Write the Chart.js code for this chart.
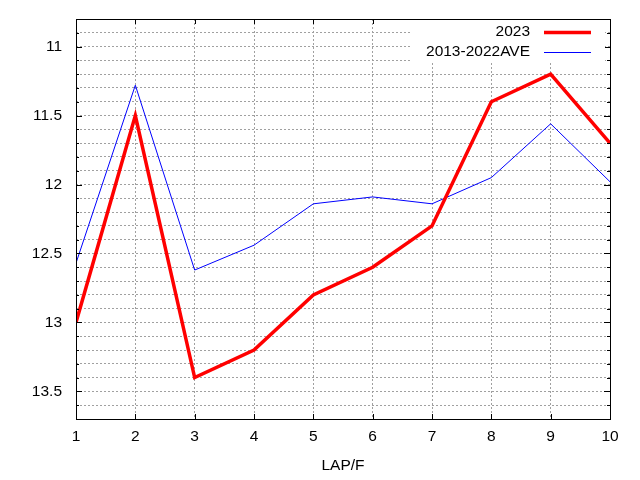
<!DOCTYPE html>
<html>
<head>
<meta charset="utf-8">
<script src="https://cdn.jsdelivr.net/npm/chart.js@4"></script>
<style>
html,body{margin:0;padding:0;background:#fff;}
#wrap{width:640px;height:480px;}
</style>
</head>
<body>
<div id="wrap"><canvas id="c" width="640" height="480"></canvas></div>
<script>
const laps = [1, 2, 3, 4, 5, 6, 7, 8, 9, 10];
const series2023 = [13.0, 11.5, 13.4, 13.2, 12.8, 12.6, 12.3, 11.4, 11.2, 11.7];
const seriesAve = [12.57, 11.28, 12.62, 12.44, 12.14, 12.09, 12.14, 11.95, 11.56, 11.98];
const seriesLabels = ['2023', '2013-2022AVE'];
const xTitle = 'LAP/F';

const FONT = 'Liberation Sans, Arial, sans-serif';
const FS = 15.5;

const frame = {
  id: 'frame',
  afterDraw(chart) {
    const {ctx, chartArea: a, scales} = chart;
    ctx.save();
    ctx.strokeStyle = '#000';
    ctx.lineWidth = 1;
    ctx.setLineDash([]);
    // inner ticks
    ctx.beginPath();
    scales.y.ticks.forEach(t => {
      const y = Math.round(scales.y.getPixelForValue(t.value)) + 0.5;
      const major = Math.abs(t.value * 2 - Math.round(t.value * 2)) < 1e-6;
      const len = major ? 6 : 3;
      ctx.moveTo(a.left, y); ctx.lineTo(a.left + len, y);
      ctx.moveTo(a.right, y); ctx.lineTo(a.right - len, y);
    });
    scales.x.ticks.forEach(t => {
      const x = Math.round(scales.x.getPixelForValue(t.value)) + 0.5;
      ctx.moveTo(x, a.bottom); ctx.lineTo(x, a.bottom - 5);
      ctx.moveTo(x, a.top); ctx.lineTo(x, a.top + 5);
    });
    ctx.stroke();
    // legend
    const boxL = a.right - 200, boxT = a.top + 1, boxW = 195, boxH = 42;
    ctx.fillStyle = '#fff';
    ctx.fillRect(boxL, boxT, boxW, boxH);
    ctx.font = FS + 'px ' + FONT;
    ctx.textAlign = 'right';
    ctx.textBaseline = 'middle';
    chart.data.datasets.forEach((ds, i) => {
      const y = a.top + 13 + i * 19.5;
      ctx.fillStyle = '#000';
      ctx.fillText(ds.label, a.right - 80, y);
      ctx.strokeStyle = ds.borderColor;
      ctx.lineWidth = ds.borderWidth;
      ctx.beginPath();
      ctx.moveTo(a.right - 66, Math.round(y) + 0.5);
      ctx.lineTo(a.right - 19, Math.round(y) + 0.5);
      ctx.stroke();
    });
    // frame
    ctx.strokeStyle = '#000';
    ctx.lineWidth = 1;
    ctx.strokeRect(Math.round(a.left) + 0.5, Math.round(a.top) + 0.5, Math.round(a.right - a.left), Math.round(a.bottom - a.top));
    ctx.restore();
  }
};

new Chart(document.getElementById('c'), {
  type: 'line',
  data: {
    datasets: [
      {
        label: seriesLabels[0],
        data: laps.map((x, i) => ({x, y: series2023[i]})),
        borderColor: '#ff0000',
        borderWidth: 3.5,
        pointRadius: 0,
        tension: 0,
        fill: false
      },
      {
        label: seriesLabels[1],
        data: laps.map((x, i) => ({x, y: seriesAve[i]})),
        borderColor: '#0000ff',
        borderWidth: 1,
        pointRadius: 0,
        tension: 0,
        fill: false
      }
    ]
  },
  plugins: [frame],
  options: {
    responsive: false,
    animation: false,
    devicePixelRatio: 1,
    layout: {padding: {top: 19, right: 30, left: 0, bottom: 0}},
    plugins: {legend: {display: false}, tooltip: {enabled: false}},
    scales: {
      x: {
        type: 'linear',
        min: 1, max: 10,
        afterFit(s) { s.height = 61; s.paddingLeft = 0; s.paddingRight = 0; },
        ticks: {stepSize: 1, color: '#000', font: {family: FONT, size: FS}, padding: 8, maxRotation: 0},
        grid: {color: '#a0a0a0', drawTicks: false},
        border: {display: false, dash: [2, 2]},
        title: {display: true, text: xTitle, color: '#000', font: {family: FONT, size: FS}, padding: {top: 0, bottom: 5}}
      },
      y: {
        type: 'linear',
        reverse: true,
        min: 10.8, max: 13.7,
        afterFit(s) { s.width = 76; s.paddingTop = 0; s.paddingBottom = 0; },
        ticks: {
          stepSize: 0.1,
          color: '#000',
          font: {family: FONT, size: FS},
          padding: 14,
          autoSkip: false,
          callback(v) {
            const r = Math.round(v * 2);
            if (Math.abs(v * 2 - r) < 1e-6) return String(r / 2);
            return '';
          }
        },
        grid: {color: '#a0a0a0', drawTicks: false},
        border: {display: false, dash: [2, 2]}
      }
    }
  }
});
</script>
</body>
</html>
